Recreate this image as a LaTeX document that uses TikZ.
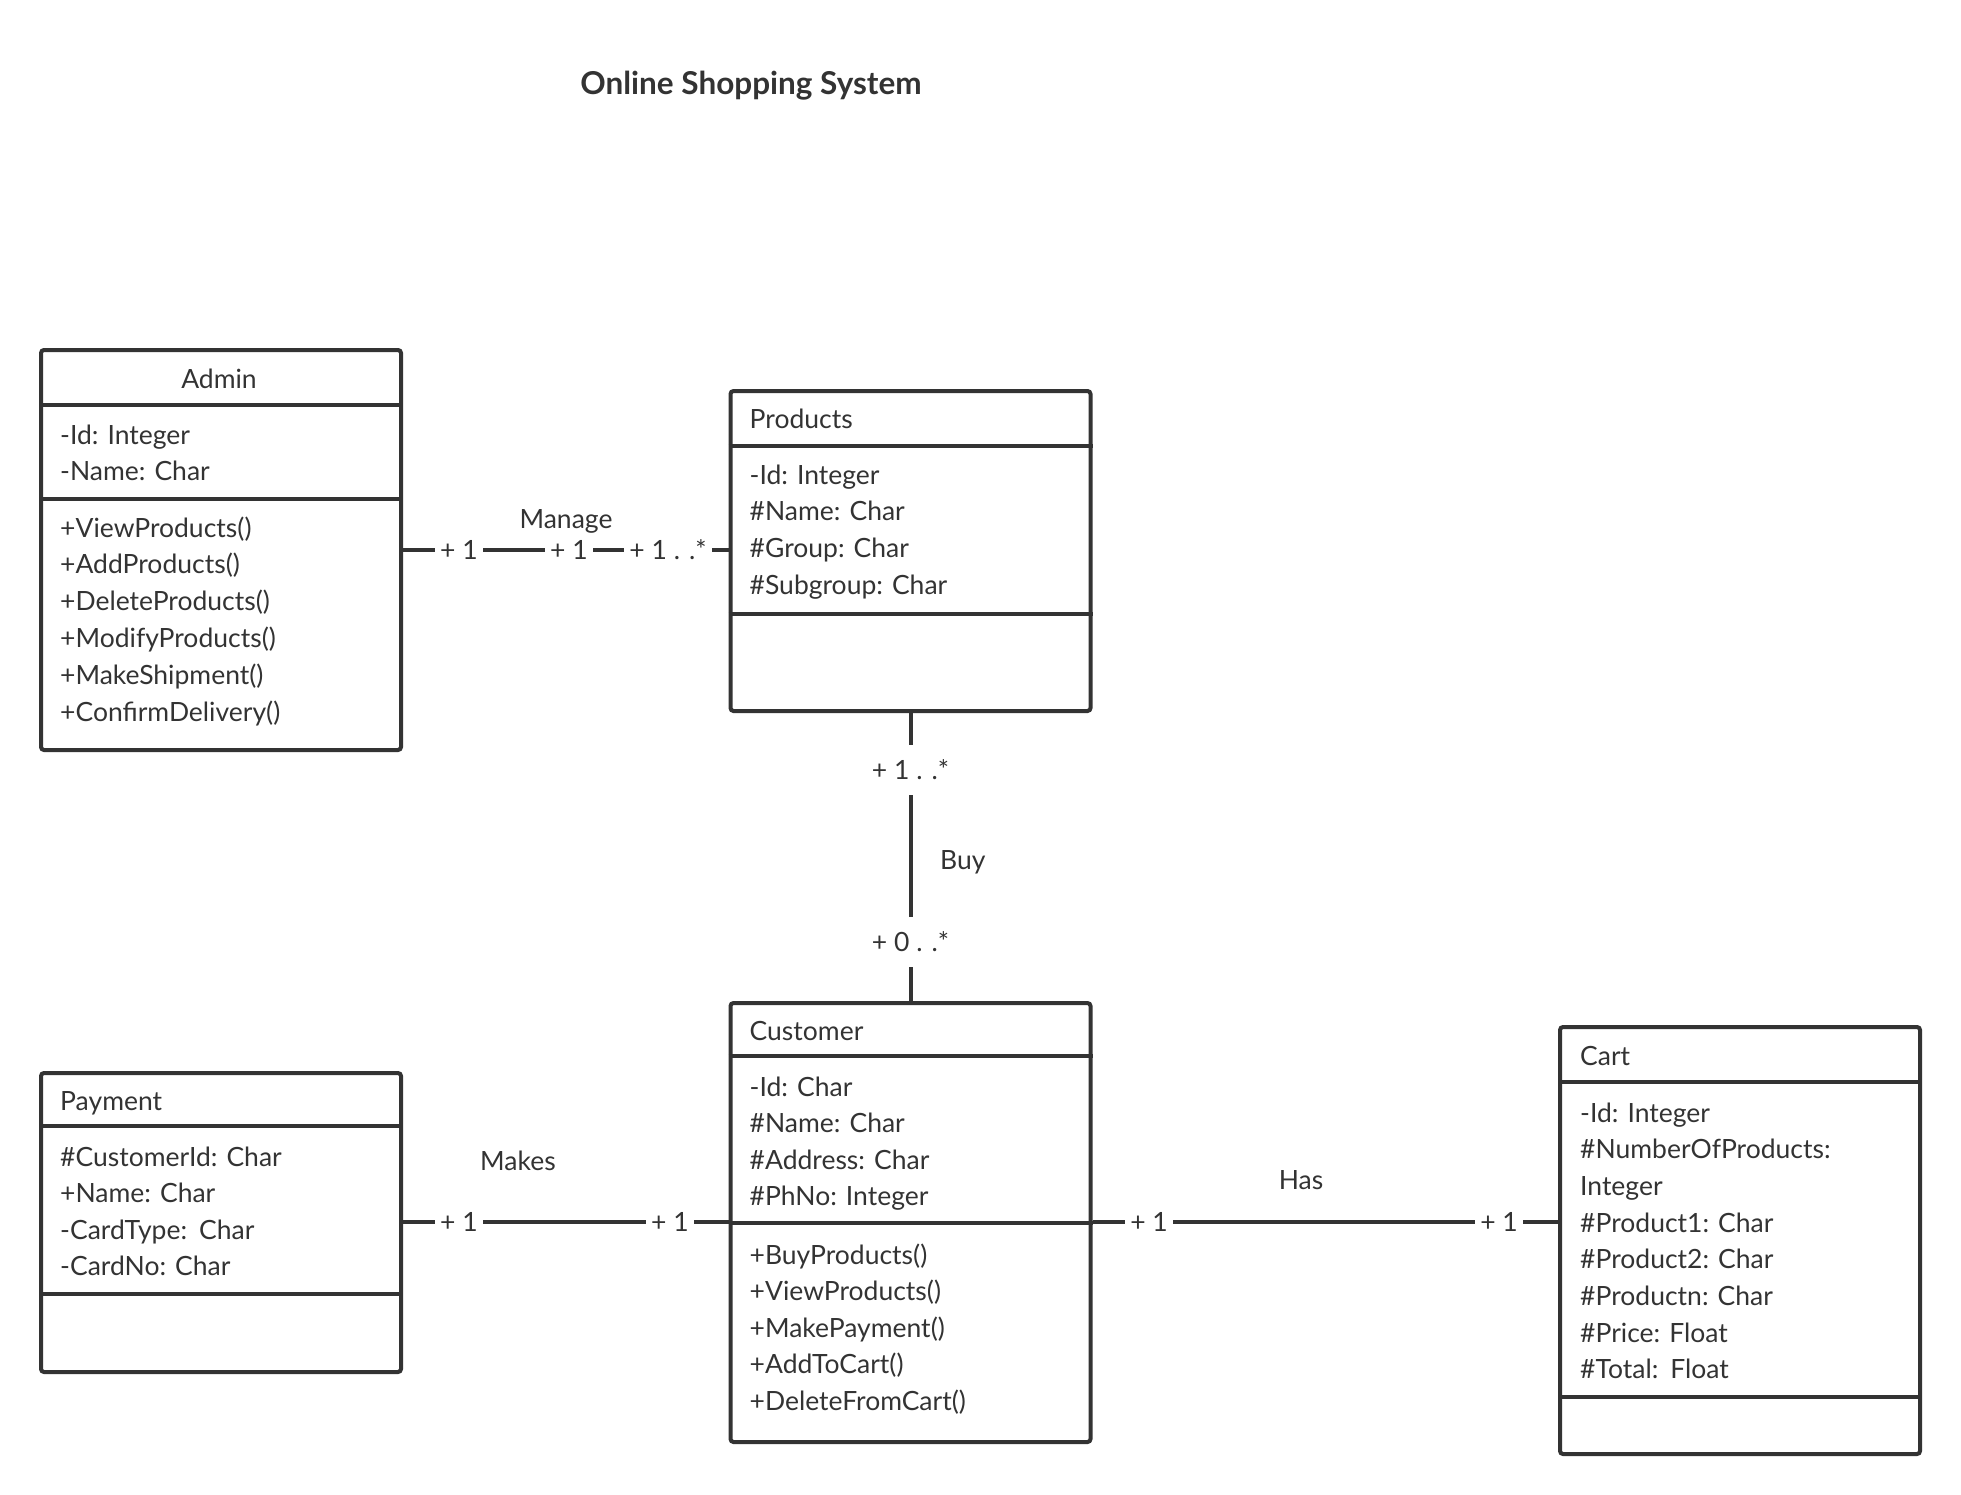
\documentclass[tikz,border=0pt]{standalone}
\usepackage{fontspec}
\setmainfont{Lato}
\definecolor{ln}{HTML}{333333}
\definecolor{tx}{HTML}{333333}
\tikzset{
  cls/.style={draw=ln, line width=4pt, rounded corners=3pt, minimum width=360pt, anchor=north west, inner sep=0pt},
  div/.style={draw=ln, line width=3.5pt},
  conn/.style={draw=ln, line width=4pt},
  txt/.style={anchor=base west, inner sep=0pt, text=tx, font=\fontsize{26.5}{32}\selectfont},
  hdr/.style={txt},
  ttl/.style={anchor=base, inner sep=0pt, text=tx, font=\fontsize{31.5}{38}\selectfont\bfseries},
  mult/.style={fill=white, inner xsep=5pt, inner ysep=3pt, text height=19pt, text depth=0pt, text=tx, font=\fontsize{26.5}{32}\selectfont},
  vmult/.style={inner xsep=0pt, inner ysep=15.5pt, text height=19pt, text depth=0pt, text=tx, font=\fontsize{26.5}{32}\selectfont},
  lbl/.style={anchor=base, inner sep=0pt, text=tx, font=\fontsize{26.5}{32}\selectfont},
}
\begin{document}
\begin{tikzpicture}[x=1pt, y=-1pt]
\useasboundingbox (0,0) rectangle (1961,1495);

\node[ttl] (title) at (751,95) {Online Shopping System};

% ---------- class boxes ----------
\node[cls, minimum height=400pt] (admin) at (39,348) {};
\node[cls, minimum height=320pt] (products) at (728.5,389) {};
\node[cls, minimum height=439pt] (customer) at (728.5,1001) {};
\node[cls, minimum height=299pt] (payment) at (39,1071) {};
\node[cls, minimum height=427pt] (cart) at (1558,1025) {};

% dividers
\draw[div] (admin.west |- 0,405) -- (admin.east |- 0,405);
\draw[div] (admin.west |- 0,499) -- (admin.east |- 0,499);
\draw[div] (products.west |- 0,446) -- (products.east |- 0,446);
\draw[div] (products.west |- 0,614) -- (products.east |- 0,614);
\draw[div] (customer.west |- 0,1056) -- (customer.east |- 0,1056);
\draw[div] (customer.west |- 0,1223) -- (customer.east |- 0,1223);
\draw[div] (payment.west |- 0,1126) -- (payment.east |- 0,1126);
\draw[div] (payment.west |- 0,1294) -- (payment.east |- 0,1294);
\draw[div] (cart.west |- 0,1082) -- (cart.east |- 0,1082);
\draw[div] (cart.west |- 0,1397) -- (cart.east |- 0,1397);

% ---------- texts ----------
\node[lbl] (admin-h) at (219,388) {Admin};
\foreach \t [count=\i] in {-Id: Integer, -Name: Char}
  \node[txt] (admin-a\i) at (60,{444+36.8*(\i-1)}) {\t};
\foreach \t [count=\i] in {+ViewProducts(), +AddProducts(), +DeleteProducts(), +ModifyProducts(), +MakeShipment(), +ConfirmDelivery()}
  \node[txt] (admin-m\i) at (60,{537+36.8*(\i-1)}) {\t};

\node[hdr] (products-h) at (749.5,428) {Products};
\foreach \t [count=\i] in {-Id: Integer, \#Name: Char, \#Group: Char, \#Subgroup: Char}
  \node[txt] (products-a\i) at (749.5,{484+36.7*(\i-1)}) {\t};

\node[hdr] (customer-h) at (749.5,1040) {Customer};
\foreach \t [count=\i] in {-Id: Char, \#Name: Char, \#Address: Char, \#PhNo: Integer}
  \node[txt] (customer-a\i) at (749.5,{1096+36.6*(\i-1)}) {\t};
\foreach \t [count=\i] in {+BuyProducts(), +ViewProducts(), +MakePayment(), +AddToCart(), +DeleteFromCart()}
  \node[txt] (customer-m\i) at (749.5,{1264+36.6*(\i-1)}) {\t};

\node[hdr] (payment-h) at (60,1110) {Payment};
\foreach \t [count=\i] in {\#CustomerId: Char, +Name: Char, -CardType:\hspace{3pt} Char, -CardNo: Char}
  \node[txt] (payment-a\i) at (60,{1166+36.5*(\i-1)}) {\t};

\node[hdr] (cart-h) at (1580,1065) {Cart};
\foreach \t [count=\i] in {-Id: Integer, \#NumberOfProducts:, Integer, \#Product1: Char, \#Product2: Char, \#Productn: Char, \#Price: Float, \#Total:\hspace{3pt} Float}
  \node[txt] (cart-a\i) at (1580,{1122+36.7*(\i-1)}) {\t};

% ---------- connectors ----------
\coordinate (yman) at (0,549.5);
\coordinate (ylow) at (0,1222);

% Manage
\draw[conn] (admin.east |- yman) -- (products.west |- yman);
\node[mult] (man1) at (459,549.5) {+ 1};
\node[mult] (man2) at (569,549.5) {+ 1};
\node[mult] (man3) at (668,549.5) {+ 1 . .*};
\node[lbl] (manage) at (566,528) {Manage};

% Buy
\node[vmult] (buy1) at (products.south |- 0,770) {+ 1 . .*};
\node[vmult] (buy2) at (products.south |- 0,942) {+ 0 . .*};
\draw[conn] (products.south) -- (buy1.north);
\draw[conn] (buy1.south) -- (buy2.north);
\draw[conn] (buy2.south) -- (customer.north);
\node[anchor=base west, inner sep=0pt, text=tx, font=\fontsize{26.5}{32}\selectfont] (buy) at (940,869) {Buy};

% Makes
\draw[conn] (payment.east |- ylow) -- (customer.west |- ylow);
\node[mult] (mk1) at (459,1222) {+ 1};
\node[mult] (mk2) at (670,1222) {+ 1};
\node[lbl] (makes) at (518,1170) {Makes};

% Has
\draw[conn] (customer.east |- ylow) -- (cart.west |- ylow);
\node[mult] (has1) at (1149,1222) {+ 1};
\node[mult] (has2) at (1499,1222) {+ 1};
\node[lbl] (has) at (1301,1189) {Has};
\end{tikzpicture}
\end{document}
